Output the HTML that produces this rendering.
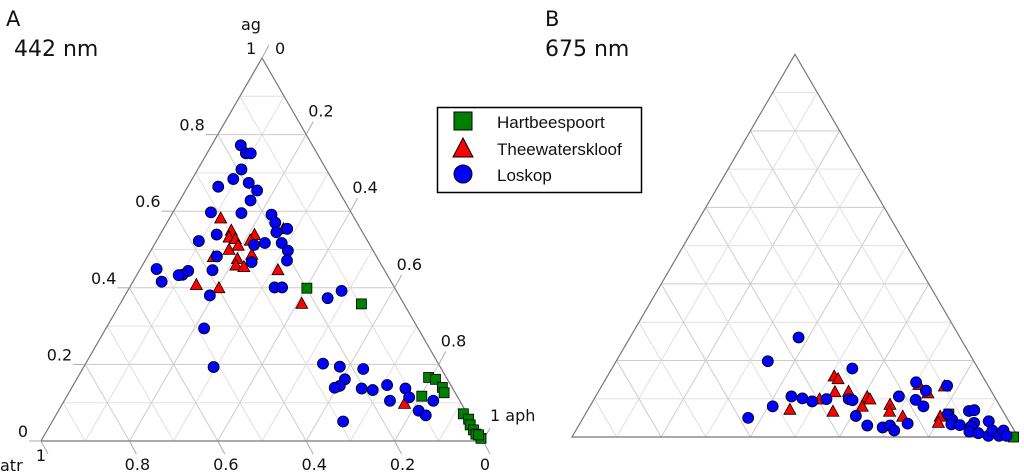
<!DOCTYPE html>
<html><head><meta charset="utf-8"><style>
html,body{margin:0;padding:0;background:#fff;}
svg{display:block;}
text{font-family:"DejaVu Sans","Liberation Sans",sans-serif;fill:#111;}
</style></head><body>
<svg id="chart" width="1024" height="473" viewBox="0 0 1024 473" xmlns="http://www.w3.org/2000/svg">
<text x="6" y="26" font-size="21">A</text>
<text x="14" y="56" font-size="22">442 nm</text>
<text x="545" y="26" font-size="21">B</text>
<text x="545" y="56" font-size="22">675 nm</text>
<g id="legend">
<rect x="437.5" y="107.5" width="204" height="85" fill="#fff" stroke="#000" stroke-width="1.5"/>
<rect x="454" y="112" width="18" height="18" fill="#008000" stroke="#000"/>
<text x="497" y="128" font-size="17" style="font-family:'Liberation Sans',sans-serif">Hartbeespoort</text>
<polygon points="463,138 473,157 453,157" fill="#ff0000" stroke="#000"/>
<text x="497" y="155" font-size="17" style="font-family:'Liberation Sans',sans-serif">Theewaterskloof</text>
<circle cx="463" cy="174" r="9" fill="#0000ff" stroke="#000"/>
<text x="497" y="181" font-size="17" style="font-family:'Liberation Sans',sans-serif">Loskop</text>
</g>
</svg>
<script>
// Panel A (442 nm) data: ag fraction and aph fraction
const aHartAg=[.399,.358,.166,.161,.140,.126,.117,.071,.057,.042,.029,.018,.007,.016];
const aHartAph=[.402,.546,.794,.812,.838,.849,.803,.920,.939,.950,.964,.975,.992,.982];
const aTheeAg=[.581,.549,.531,.527,.510,.538,.523,.499,.486,.475,.458,.454,.480,.553,.446,.407,.399,.358,.097];
const aTheeAph=[.116,.156,.160,.176,.191,.214,.212,.176,.234,.207,.212,.232,.150,.272,.313,.148,.203,.411,.774];
const aLosAg=[.772,.751,.751,.709,.684,.664,.674,.654,.628,.597,.595,.591,.570,.545,.554,.539,.522,.517,.512,.517,.497,.482,.467,.471,.449,.444,.434,.433,.416,.446,.380,.401,.401,.373,.392,.294,.193,.202,.194,.188,.161,.144,.139,.137,.133,.146,.137,.114,.105,.105,.079,.067,.051];
const aLosAph=[.066,.088,.099,.099,.093,.069,.133,.162,.160,.086,.156,.226,.245,.260,.280,.128,.096,.248,.226,.286,.310,.157,.243,.321,.037,.111,.103,.095,.065,.165,.192,.328,.345,.462,.484,.222,.294,.537,.579,.635,.607,.604,.595,.657,.684,.710,.756,.776,.737,.835,.815,.837,.658];
// Panel B (675 nm)
const bHartAg=[.060,0.0];
const bHartAph=[.815,.99];
const bTheeAg=[.158,.151,.117,.118,.098,.071,.066,.104,.098,.079,.084,.066,.053,.136,.114,.053,.037,.132];
const bTheeAph=[.509,.521,.531,.561,.506,.453,.552,.610,.619,.611,.671,.679,.715,.710,.741,.799,.803,.769];
const bLosAg=[.260,.198,.179,.050,.080,.106,.101,.093,.099,.099,.096,.055,.030,.025,.030,.017,.035,.106,.143,.121,.097,.080,.134,.059,.045,.033,.031,.068,.070,.037,.027,.014,.010,.041,.003,.017,.003,.017,.003];
const bLosAph=[.378,.340,.539,.370,.410,.439,.466,.492,.521,.571,.581,.609,.647,.684,.698,.714,.735,.680,.700,.733,.722,.748,.774,.813,.830,.834,.854,.856,.867,.883,.881,.884,.906,.914,.932,.934,.956,.959,.973];
const gridTicks=[0.1,0.2,0.3,0.4,0.5,0.6,0.7,0.8,0.9];

const NS="http://www.w3.org/2000/svg";
const svg=document.getElementById('chart');
const legend=document.getElementById('legend');
function mk(tag,attrs,parent){const e=document.createElementNS(NS,tag);for(const k in attrs)e.setAttribute(k,attrs[k]);if(parent)parent.appendChild(e);else svg.insertBefore(e,legend);return e;}

function panel(P,key,labels,sets){
  const W=P.x1-P.x0,H=P.yb-P.ya;
  const pt=(ag,aph)=>[P.x0+W*(aph+ag/2),P.yb-H*ag];
  const g=mk('g',{});
  
  
  for(const t of gridTicks){
    const strong=Math.abs(t*5-Math.round(t*5))<1e-6;
    const col=strong?'#cccccc':'#e0e0e0';
    let a=pt(t,0),b=pt(t,1-t);
    let l=mk('line',{x1:a[0],y1:a[1],x2:b[0],y2:b[1],stroke:col,'stroke-width':1},g);
    
    
    a=pt(0,t);b=pt(1-t,t);
    l=mk('line',{x1:a[0],y1:a[1],x2:b[0],y2:b[1],stroke:col,'stroke-width':1},g);
    
    
    a=pt(0,1-t);b=pt(1-t,0);
    l=mk('line',{x1:a[0],y1:a[1],x2:b[0],y2:b[1],stroke:col,'stroke-width':1},g);
    
    
  }
  const A=pt(1,0),L=pt(0,0),R=pt(0,1);
  const tri=mk('polygon',{points:[A,L,R].map(p=>p.join(',')).join(' '),fill:'none',stroke:'#777','stroke-width':1.2},g);
  
  
  if(labels){
    const tk=[0.2,0.4,0.6,0.8];
    for(const t of [0,...tk]){
      let p=pt(t,0);
      let l=mk('line',{x1:p[0]-12,y1:p[1],x2:p[0],y2:p[1],stroke:'#aaa'},g);
      
      
      let tx=mk('text',{x:p[0]-13,y:p[1]-4,'font-size':16,'text-anchor':'end'},g);
      tx.textContent=t===0?'0':t.toFixed(1);
      
      
      p=pt(1-t,t);
      l=mk('line',{x1:p[0],y1:p[1],x2:p[0]+7,y2:p[1]-13,stroke:'#aaa'},g);
      
      
      if(t>0){
        tx=mk('text',{x:p[0]+2,y:p[1]-18,'font-size':16},g);
        tx.textContent=t.toFixed(1);
        
        
      }
      p=pt(0,t);
      l=mk('line',{x1:p[0],y1:p[1],x2:p[0]+7,y2:p[1]+13,stroke:'#aaa'},g);
      
      
      tx=mk('text',{x:p[0]+(t===0?0:8),y:p[1]+(t===0?20:29),'font-size':16,'text-anchor':'middle'},g);
      tx.textContent=t===0?'1':(1-t).toFixed(1);
      
      
    }
    let p=pt(0,1);
    let l=mk('line',{x1:p[0],y1:p[1],x2:p[0]+7,y2:p[1]+13,stroke:'#aaa'},g);
    
    
    let tx=mk('text',{x:p[0]+2,y:p[1]+29,'font-size':16,'text-anchor':'middle'},g);
    tx.textContent='0';
    
    
    l=mk('line',{x1:p[0],y1:p[1],x2:p[0]+7,y2:p[1]-13,stroke:'#aaa'},g);
    
    
    tx=mk('text',{x:p[0]+7,y:p[1]-20,'font-size':16},g);
    tx.textContent='1 aph';
    
    
    p=pt(1,0);
    tx=mk('text',{x:p[0]-16,y:p[1]-4,'font-size':16},g);
    tx.textContent='1';
    
    
    tx=mk('text',{x:p[0]+13,y:p[1]-4,'font-size':16},g);
    tx.textContent='0';
    
    
    tx=mk('text',{x:p[0]-21,y:p[1]-28,'font-size':16},g);
    tx.textContent='ag';
    
    
    tx=mk('text',{x:0,y:471,'font-size':16},g);
    tx.textContent='atr';
    
    
  }
  const [hAg,hAph,tAg,tAph,lAg,lAph]=sets;
  hAg.forEach((ag,i)=>{const [x,y]=pt(ag,hAph[i]);
    const m=mk('rect',{x:x-5,y:y-5,width:10,height:10,fill:'#008000',stroke:'#000','stroke-width':0.8},g);
    
    });
  tAg.forEach((ag,i)=>{const [x,y]=pt(ag,tAph[i]);
    const m=mk('polygon',{points:`${x},${y-6.5} ${x+6},${y+4.5} ${x-6},${y+4.5}`,fill:'#ff0000',stroke:'#000','stroke-width':0.8},g);
    
    });
  lAg.forEach((ag,i)=>{const [x,y]=pt(ag,lAph[i]);
    const m=mk('circle',{cx:x,cy:y,r:5.5,fill:'#0000ff',stroke:'#000','stroke-width':0.8},g);
    
    });
}
panel({x0:41,x1:483,ya:58,yb:441},'panel-a',true,[aHartAg,aHartAph,aTheeAg,aTheeAph,aLosAg,aLosAph]);
panel({x0:572,x1:1018,ya:54.3,yb:437},'panel-b',false,[bHartAg,bHartAph,bTheeAg,bTheeAph,bLosAg,bLosAph]);
</script>
</body></html>
